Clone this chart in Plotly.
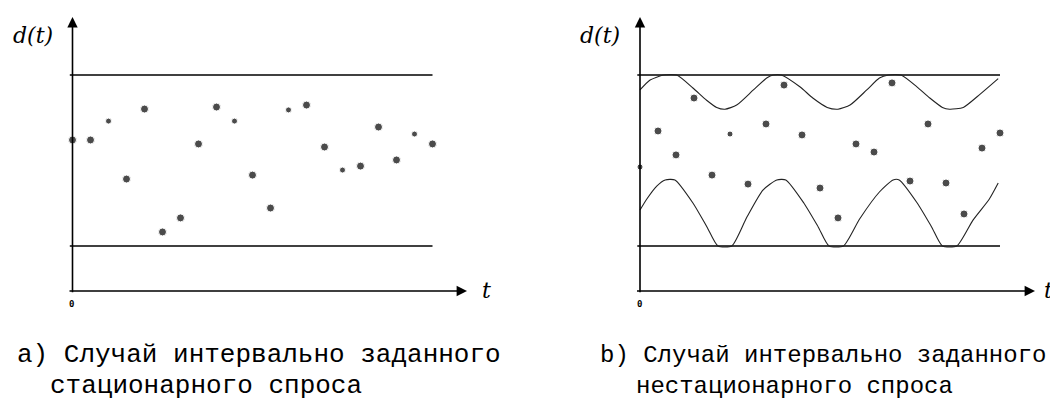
import plotly.graph_objects as go

# --- data -------------------------------------------------------------------
t_points = list(range(21))

# a) stationary demand inside a fixed interval
demand_a = [8.39, 8.39, 9.44, 6.22, 10.11, 3.28, 4.06, 8.17, 10.22, 9.44, 6.44,
            4.61, 10.06, 10.33, 8.0, 6.72, 6.94, 9.11, 7.28, 8.72, 8.17]

# b) non-stationary demand
demand_b = [6.89, 8.89, 7.56, 10.72, 6.44, 8.72, 5.94, 9.28, 11.44, 8.67, 5.72,
            4.06, 8.17, 7.72, 11.56, 6.11, 9.28, 6.0, 4.28, 7.94, 8.78]

# interval bounds
bound_low = 2.5
bound_high = 12.0
t_end = 20

# moving bounds in panel b
upper_t = [0, 0.56, 1.3, 2.04, 2.94, 3.7, 4.26, 4.72, 5.37, 6.3, 7.04, 7.4, 7.85,
           8.9, 9.6, 10.4, 11.0, 11.67, 12.6, 13.3, 13.8, 14.5, 15.4, 16.1,
           16.8, 17.2, 17.96, 18.9, 19.9]
upper_d = [11.17, 11.72, 12.0, 12.0, 11.28, 10.6, 10.2, 10.1, 10.33, 11.17, 11.83,
           12.0, 12.0, 11.33, 10.72, 10.2, 10.1, 10.33, 11.17, 11.83, 12.0, 12.0,
           11.33, 10.72, 10.2, 10.1, 10.2, 10.94, 11.8]

lower_t = [0, 0.37, 0.93, 1.4, 1.94, 2.94, 3.72, 4.33, 5.1, 5.94, 6.83, 7.6, 8.1,
           9.1, 9.9, 10.5, 11.3, 12.2, 13.3, 14.06, 14.4, 15.4, 16.2, 16.8, 17.6,
           18.5, 19.4, 19.9]
lower_d = [4.5, 5.1, 5.83, 6.17, 6.17, 4.89, 3.56, 2.5, 2.5, 4.11, 5.61, 6.17, 6.17,
           4.89, 3.56, 2.5, 2.5, 4.0, 5.5, 6.17, 6.17, 4.89, 3.56, 2.5, 2.5,
           3.94, 5.1, 6.0]

caption_a = ["а) Случай интервально заданного", "стационарного спроса"]
caption_b = ["b) Случай интервально заданного", "нестационарного спроса"]

# dots that were drawn smaller in the original
small_a = [2, 9, 12, 15, 19]
small_b = [0, 5]

# the page body has an 8px margin, so the figure is shifted by it
OFF = 8
W, H = 1058 - OFF, 400 - OFF
PX = 18.0  # pixels per unit on both axes


def px_x(p):
    return (p - OFF) / W


def px_y(p):
    return 1 - (p - OFF) / H


fig = go.Figure()

panels = [
    ("x", "y", demand_a, small_a, 72.5, (40, 480)),
    ("x2", "y2", demand_b, small_b, 640.0, (600, 1058)),
]

for xa, ya, vals, small, origin, _ in panels:
    sizes = [6 if i in small else 8 for i in range(len(vals))]
    # interval bounds
    for level in (bound_low, bound_high):
        fig.add_trace(go.Scatter(x=[-0.15, t_end], y=[level, level], mode="lines",
                                 line=dict(color="black", width=1.4),
                                 xaxis=xa, yaxis=ya, hoverinfo="skip"))
    fig.add_trace(go.Scatter(x=t_points, y=vals, mode="markers",
                             marker=dict(color="black", size=sizes, symbol="circle"),
                             xaxis=xa, yaxis=ya))

for tt, dd in ((upper_t, upper_d), (lower_t, lower_d)):
    fig.add_trace(go.Scatter(x=tt, y=dd, mode="lines",
                             line=dict(color="#222222", width=1.1, shape="spline", smoothing=0.6),
                             xaxis="x2", yaxis="y2", hoverinfo="skip"))

# axes geometry (page px): x = origin + PX*t, y = 291 - PX*d
y_dom = [px_y(300), px_y(10)]
y_rng = [(291 - 300) / PX, (291 - 10) / PX]

layout_axes = {}
for i, (xa, ya, vals, small, origin, (left_px, right_px)) in enumerate(panels):
    right_px = min(right_px, OFF + W)
    xname = "xaxis" if i == 0 else "xaxis2"
    yname = "yaxis" if i == 0 else "yaxis2"
    layout_axes[xname] = dict(domain=[px_x(left_px), px_x(right_px)],
                              range=[(left_px - origin) / PX, (right_px - origin) / PX],
                              visible=False, fixedrange=True)
    layout_axes[yname] = dict(domain=y_dom, range=y_rng, visible=False,
                              anchor=xa, fixedrange=True)

annotations = []
arrow_style = dict(showarrow=True, arrowhead=2, arrowsize=1.3, arrowwidth=1.6,
                   arrowcolor="black", text="", standoff=0)
for xa, ya, vals, small, origin, _ in panels:
    x_tip = (1035 - 640) / PX if xa == "x2" else (467 - 72.5) / PX
    annotations.append(dict(x=0, y=(291 - 17) / PX, ax=0, ay=-0.15, xref=xa, yref=ya,
                            axref=xa, ayref=ya, **arrow_style))
    annotations.append(dict(x=x_tip, y=0, ax=-0.25, ay=0, xref=xa, yref=ya,
                            axref=xa, ayref=ya, **arrow_style))

label_font = dict(family="DejaVu Serif", size=22, color="black", style="italic")
for cx in (33, 600):
    annotations.append(dict(x=px_x(cx), y=px_y(36), xref="paper", yref="paper",
                            text="d(t)", showarrow=False, xanchor="center",
                            yanchor="middle", font=label_font))
for lx in (480, 1042):
    annotations.append(dict(x=px_x(lx), y=px_y(290), xref="paper", yref="paper",
                            text="t", showarrow=False, xanchor="left",
                            yanchor="middle", font=label_font))
for ox in (71, 639):
    annotations.append(dict(x=px_x(ox), y=px_y(304), xref="paper", yref="paper",
                            text="<b>0</b>", showarrow=False, xanchor="center",
                            yanchor="middle",
                            font=dict(family="DejaVu Sans Mono", size=9, color="black")))

# captions: the right one is set a little smaller so it stays inside the page
captions = [
    (caption_a, (15, 48), 26),
    (caption_b, (598, 634), 24),
]
for lines, xs, fsize in captions:
    for line, lx, ly in zip(lines, xs, (355, 386)):
        annotations.append(dict(x=px_x(lx), y=px_y(ly), xref="paper", yref="paper",
                                text=line, showarrow=False, xanchor="left",
                                yanchor="middle",
                                font=dict(family="Liberation Mono", size=fsize,
                                          color="black")))

fig.update_layout(
    width=W, height=H,
    margin=dict(l=0, r=0, t=0, b=0),
    paper_bgcolor="white", plot_bgcolor="white",
    showlegend=False, hovermode=False,
    annotations=annotations,
    **layout_axes,
)

fig.write_html("out.html")
